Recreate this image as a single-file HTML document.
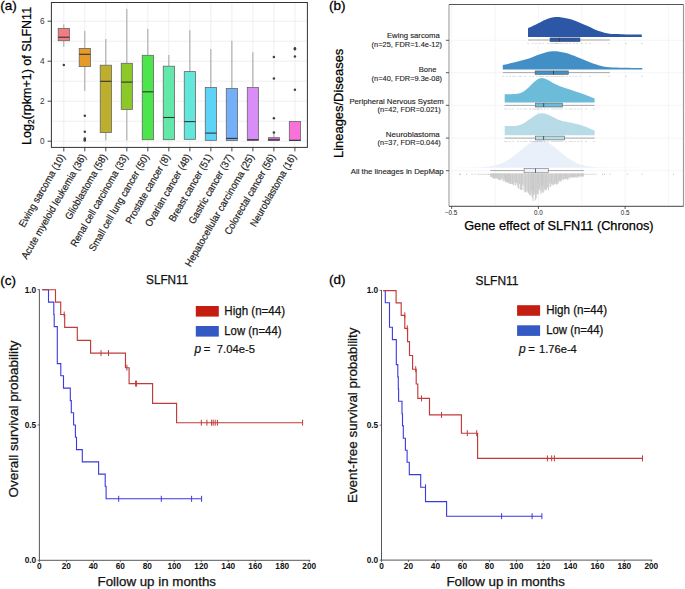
<!DOCTYPE html>
<html><head><meta charset="utf-8"><style>
html,body{margin:0;padding:0;background:#fff;}
body{width:685px;height:589px;overflow:hidden;}
svg{display:block;font-family:"Liberation Sans", sans-serif;}
</style></head><body>
<svg width="685" height="589" viewBox="0 0 685 589">
<rect width="685" height="589" fill="#fff"/>
<rect x="51.4" y="2.5" width="255.99999999999997" height="144.9" fill="#fff"/>
<line x1="51.4" x2="307.4" y1="141.20" y2="141.20" stroke="#EBEBEB" stroke-width="0.8"/>
<line x1="51.4" x2="307.4" y1="121.20" y2="121.20" stroke="#EBEBEB" stroke-width="0.8"/>
<line x1="51.4" x2="307.4" y1="101.20" y2="101.20" stroke="#EBEBEB" stroke-width="0.8"/>
<line x1="51.4" x2="307.4" y1="81.20" y2="81.20" stroke="#EBEBEB" stroke-width="0.8"/>
<line x1="51.4" x2="307.4" y1="61.20" y2="61.20" stroke="#EBEBEB" stroke-width="0.8"/>
<line x1="51.4" x2="307.4" y1="41.20" y2="41.20" stroke="#EBEBEB" stroke-width="0.8"/>
<line x1="51.4" x2="307.4" y1="21.20" y2="21.20" stroke="#EBEBEB" stroke-width="0.8"/>
<line x1="63.80" x2="63.80" y1="2.5" y2="147.4" stroke="#EBEBEB" stroke-width="0.8"/>
<line x1="84.81" x2="84.81" y1="2.5" y2="147.4" stroke="#EBEBEB" stroke-width="0.8"/>
<line x1="105.82" x2="105.82" y1="2.5" y2="147.4" stroke="#EBEBEB" stroke-width="0.8"/>
<line x1="126.83" x2="126.83" y1="2.5" y2="147.4" stroke="#EBEBEB" stroke-width="0.8"/>
<line x1="147.84" x2="147.84" y1="2.5" y2="147.4" stroke="#EBEBEB" stroke-width="0.8"/>
<line x1="168.85" x2="168.85" y1="2.5" y2="147.4" stroke="#EBEBEB" stroke-width="0.8"/>
<line x1="189.86" x2="189.86" y1="2.5" y2="147.4" stroke="#EBEBEB" stroke-width="0.8"/>
<line x1="210.87" x2="210.87" y1="2.5" y2="147.4" stroke="#EBEBEB" stroke-width="0.8"/>
<line x1="231.88" x2="231.88" y1="2.5" y2="147.4" stroke="#EBEBEB" stroke-width="0.8"/>
<line x1="252.89" x2="252.89" y1="2.5" y2="147.4" stroke="#EBEBEB" stroke-width="0.8"/>
<line x1="273.90" x2="273.90" y1="2.5" y2="147.4" stroke="#EBEBEB" stroke-width="0.8"/>
<line x1="294.91" x2="294.91" y1="2.5" y2="147.4" stroke="#EBEBEB" stroke-width="0.8"/>
<line x1="63.80" x2="63.80" y1="24.3" y2="28.4" stroke="#A3A3A3" stroke-width="1"/>
<line x1="63.80" x2="63.80" y1="40.7" y2="46.8" stroke="#A3A3A3" stroke-width="1"/>
<rect x="58.20" y="28.4" width="11.2" height="12.30" fill="#F47B80" stroke="#666" stroke-width="0.8"/>
<line x1="58.20" x2="69.40" y1="37.2" y2="37.2" stroke="#333" stroke-width="1.1"/>
<circle cx="63.80" cy="65.1" r="1.25" fill="#404040"/>
<line x1="84.81" x2="84.81" y1="30.9" y2="48.4" stroke="#A3A3A3" stroke-width="1"/>
<line x1="84.81" x2="84.81" y1="66.6" y2="90.9" stroke="#A3A3A3" stroke-width="1"/>
<rect x="79.21" y="48.4" width="11.2" height="18.20" fill="#E69A28" stroke="#666" stroke-width="0.8"/>
<line x1="79.21" x2="90.41" y1="54.3" y2="54.3" stroke="#333" stroke-width="1.1"/>
<circle cx="84.81" cy="115.8" r="1.25" fill="#404040"/>
<circle cx="84.81" cy="131.8" r="1.25" fill="#404040"/>
<circle cx="84.81" cy="138.4" r="1.25" fill="#404040"/>
<circle cx="84.81" cy="139.8" r="1.25" fill="#404040"/>
<circle cx="84.81" cy="140.6" r="1.25" fill="#404040"/>
<line x1="105.82" x2="105.82" y1="39.0" y2="65.2" stroke="#A3A3A3" stroke-width="1"/>
<line x1="105.82" x2="105.82" y1="132.5" y2="140.3" stroke="#A3A3A3" stroke-width="1"/>
<rect x="100.22" y="65.2" width="11.2" height="67.30" fill="#BDAF2C" stroke="#666" stroke-width="0.8"/>
<line x1="100.22" x2="111.42" y1="81.3" y2="81.3" stroke="#333" stroke-width="1.1"/>
<line x1="126.83" x2="126.83" y1="8.9" y2="63.3" stroke="#A3A3A3" stroke-width="1"/>
<line x1="126.83" x2="126.83" y1="109.4" y2="140.3" stroke="#A3A3A3" stroke-width="1"/>
<rect x="121.23" y="63.3" width="11.2" height="46.10" fill="#8CC828" stroke="#666" stroke-width="0.8"/>
<line x1="121.23" x2="132.43" y1="82.1" y2="82.1" stroke="#333" stroke-width="1.1"/>
<line x1="147.84" x2="147.84" y1="28.9" y2="55.3" stroke="#A3A3A3" stroke-width="1"/>
<rect x="142.24" y="55.3" width="11.2" height="84.40" fill="#4CE64C" stroke="#666" stroke-width="0.8"/>
<line x1="142.24" x2="153.44" y1="91.8" y2="91.8" stroke="#333" stroke-width="1.1"/>
<line x1="168.85" x2="168.85" y1="55.0" y2="66.2" stroke="#A3A3A3" stroke-width="1"/>
<rect x="163.25" y="66.2" width="11.2" height="73.50" fill="#62E9AA" stroke="#666" stroke-width="0.8"/>
<line x1="163.25" x2="174.45" y1="117.5" y2="117.5" stroke="#333" stroke-width="1.1"/>
<line x1="189.86" x2="189.86" y1="30.1" y2="71.6" stroke="#A3A3A3" stroke-width="1"/>
<rect x="184.26" y="71.6" width="11.2" height="67.70" fill="#64E7DB" stroke="#666" stroke-width="0.8"/>
<line x1="184.26" x2="195.46" y1="121.6" y2="121.6" stroke="#333" stroke-width="1.1"/>
<line x1="210.87" x2="210.87" y1="49.0" y2="87.5" stroke="#A3A3A3" stroke-width="1"/>
<rect x="205.27" y="87.5" width="11.2" height="52.80" fill="#5DD3F7" stroke="#666" stroke-width="0.8"/>
<line x1="205.27" x2="216.47" y1="133.1" y2="133.1" stroke="#333" stroke-width="1.1"/>
<line x1="231.88" x2="231.88" y1="40.8" y2="88.5" stroke="#A3A3A3" stroke-width="1"/>
<rect x="226.28" y="88.5" width="11.2" height="52.00" fill="#74B0FA" stroke="#666" stroke-width="0.8"/>
<line x1="226.28" x2="237.48" y1="138.4" y2="138.4" stroke="#333" stroke-width="1.1"/>
<line x1="252.89" x2="252.89" y1="52.3" y2="87.5" stroke="#A3A3A3" stroke-width="1"/>
<rect x="247.29" y="87.5" width="11.2" height="53.00" fill="#D98DF9" stroke="#666" stroke-width="0.8"/>
<line x1="247.29" x2="258.49" y1="139.7" y2="139.7" stroke="#333" stroke-width="1.1"/>
<line x1="273.90" x2="273.90" y1="132.0" y2="137.7" stroke="#A3A3A3" stroke-width="1"/>
<rect x="268.30" y="137.7" width="11.2" height="2.90" fill="#E062E6" stroke="#666" stroke-width="0.8"/>
<line x1="268.30" x2="279.50" y1="139.8" y2="139.8" stroke="#333" stroke-width="1.1"/>
<circle cx="273.90" cy="57.1" r="1.25" fill="#404040"/>
<circle cx="273.90" cy="78.6" r="1.25" fill="#404040"/>
<circle cx="273.90" cy="118.2" r="1.25" fill="#404040"/>
<circle cx="273.90" cy="132.4" r="1.25" fill="#404040"/>
<line x1="294.91" x2="294.91" y1="121.4" y2="121.4" stroke="#A3A3A3" stroke-width="1"/>
<rect x="289.31" y="121.4" width="11.2" height="19.20" fill="#F872DA" stroke="#666" stroke-width="0.8"/>
<line x1="289.31" x2="300.51" y1="140.3" y2="140.3" stroke="#333" stroke-width="1.1"/>
<circle cx="294.91" cy="48.3" r="1.25" fill="#404040"/>
<circle cx="294.91" cy="49.3" r="1.25" fill="#404040"/>
<circle cx="294.91" cy="56.5" r="1.25" fill="#404040"/>
<circle cx="294.91" cy="89.8" r="1.25" fill="#404040"/>
<rect x="51.4" y="2.5" width="255.99999999999997" height="144.9" fill="none" stroke="#333" stroke-width="1"/>
<line x1="47.6" x2="51.4" y1="141.20" y2="141.20" stroke="#333" stroke-width="0.9"/>
<text x="44.50" y="144.15" font-size="8.2" fill="#333" text-anchor="end">0</text>
<line x1="47.6" x2="51.4" y1="101.20" y2="101.20" stroke="#333" stroke-width="0.9"/>
<text x="44.50" y="104.15" font-size="8.2" fill="#333" text-anchor="end">2</text>
<line x1="47.6" x2="51.4" y1="61.20" y2="61.20" stroke="#333" stroke-width="0.9"/>
<text x="44.50" y="64.15" font-size="8.2" fill="#333" text-anchor="end">4</text>
<line x1="47.6" x2="51.4" y1="21.20" y2="21.20" stroke="#333" stroke-width="0.9"/>
<text x="44.50" y="24.15" font-size="8.2" fill="#333" text-anchor="end">6</text>
<line x1="63.80" x2="63.80" y1="147.4" y2="151.4" stroke="#333" stroke-width="0.9"/>
<text transform="translate(59.30 153.1) rotate(-60)" x="0" y="0" font-size="10.1" fill="#1a1a1a" stroke="#1a1a1a" stroke-width="0.18" text-anchor="end" dy="0.69em" textLength="82.32" lengthAdjust="spacingAndGlyphs">Ewing sarcoma (10)</text>
<line x1="84.81" x2="84.81" y1="147.4" y2="151.4" stroke="#333" stroke-width="0.9"/>
<text transform="translate(80.31 153.1) rotate(-60)" x="0" y="0" font-size="10.1" fill="#1a1a1a" stroke="#1a1a1a" stroke-width="0.18" text-anchor="end" dy="0.69em" textLength="119.23" lengthAdjust="spacingAndGlyphs">Acute myeloid leukemia (36)</text>
<line x1="105.82" x2="105.82" y1="147.4" y2="151.4" stroke="#333" stroke-width="0.9"/>
<text transform="translate(101.32 153.1) rotate(-60)" x="0" y="0" font-size="10.1" fill="#1a1a1a" stroke="#1a1a1a" stroke-width="0.18" text-anchor="end" dy="0.69em" textLength="73.82" lengthAdjust="spacingAndGlyphs">Glioblastoma (58)</text>
<line x1="126.83" x2="126.83" y1="147.4" y2="151.4" stroke="#333" stroke-width="0.9"/>
<text transform="translate(122.33 153.1) rotate(-60)" x="0" y="0" font-size="10.1" fill="#1a1a1a" stroke="#1a1a1a" stroke-width="0.18" text-anchor="end" dy="0.69em" textLength="104.97" lengthAdjust="spacingAndGlyphs">Renal cell carcinoma (33)</text>
<line x1="147.84" x2="147.84" y1="147.4" y2="151.4" stroke="#333" stroke-width="0.9"/>
<text transform="translate(143.34 153.1) rotate(-60)" x="0" y="0" font-size="10.1" fill="#1a1a1a" stroke="#1a1a1a" stroke-width="0.18" text-anchor="end" dy="0.69em" textLength="110.21" lengthAdjust="spacingAndGlyphs">Small cell lung cancer (50)</text>
<line x1="168.85" x2="168.85" y1="147.4" y2="151.4" stroke="#333" stroke-width="0.9"/>
<text transform="translate(164.35 153.1) rotate(-60)" x="0" y="0" font-size="10.1" fill="#1a1a1a" stroke="#1a1a1a" stroke-width="0.18" text-anchor="end" dy="0.69em" textLength="78.72" lengthAdjust="spacingAndGlyphs">Prostate cancer (8)</text>
<line x1="189.86" x2="189.86" y1="147.4" y2="151.4" stroke="#333" stroke-width="0.9"/>
<text transform="translate(185.36 153.1) rotate(-60)" x="0" y="0" font-size="10.1" fill="#1a1a1a" stroke="#1a1a1a" stroke-width="0.18" text-anchor="end" dy="0.69em" textLength="81.81" lengthAdjust="spacingAndGlyphs">Ovarian cancer (48)</text>
<line x1="210.87" x2="210.87" y1="147.4" y2="151.4" stroke="#333" stroke-width="0.9"/>
<text transform="translate(206.37 153.1) rotate(-60)" x="0" y="0" font-size="10.1" fill="#1a1a1a" stroke="#1a1a1a" stroke-width="0.18" text-anchor="end" dy="0.69em" textLength="76.15" lengthAdjust="spacingAndGlyphs">Breast cancer (51)</text>
<line x1="231.88" x2="231.88" y1="147.4" y2="151.4" stroke="#333" stroke-width="0.9"/>
<text transform="translate(227.38 153.1) rotate(-60)" x="0" y="0" font-size="10.1" fill="#1a1a1a" stroke="#1a1a1a" stroke-width="0.18" text-anchor="end" dy="0.69em" textLength="78.72" lengthAdjust="spacingAndGlyphs">Gastric cancer (37)</text>
<line x1="252.89" x2="252.89" y1="147.4" y2="151.4" stroke="#333" stroke-width="0.9"/>
<text transform="translate(248.39 153.1) rotate(-60)" x="0" y="0" font-size="10.1" fill="#1a1a1a" stroke="#1a1a1a" stroke-width="0.18" text-anchor="end" dy="0.69em" textLength="127.97" lengthAdjust="spacingAndGlyphs">Hepatocellular carcinoma (25)</text>
<line x1="273.90" x2="273.90" y1="147.4" y2="151.4" stroke="#333" stroke-width="0.9"/>
<text transform="translate(269.40 153.1) rotate(-60)" x="0" y="0" font-size="10.1" fill="#1a1a1a" stroke="#1a1a1a" stroke-width="0.18" text-anchor="end" dy="0.69em" textLength="91.07" lengthAdjust="spacingAndGlyphs">Colorectal cancer (56)</text>
<line x1="294.91" x2="294.91" y1="147.4" y2="151.4" stroke="#333" stroke-width="0.9"/>
<text transform="translate(290.41 153.1) rotate(-60)" x="0" y="0" font-size="10.1" fill="#1a1a1a" stroke="#1a1a1a" stroke-width="0.18" text-anchor="end" dy="0.69em" textLength="81.82" lengthAdjust="spacingAndGlyphs">Neuroblastoma (16)</text>
<text transform="translate(31.2 144.9) rotate(-90)" font-size="13.6" fill="#000" stroke="#000" stroke-width="0.25" textLength="138.0" lengthAdjust="spacingAndGlyphs">Log<tspan font-size="9" dy="3">2</tspan><tspan dy="-3">(rpkm+1) of SLFN11</tspan></text>
<text x="0.30" y="10.30" font-size="13.5" fill="#000" stroke="#000" stroke-width="0.3">(a)</text>
<rect x="449.0" y="4.5" width="234.50" height="201.80" fill="#fff"/>
<line x1="451.70" x2="451.70" y1="4.5" y2="206.3" stroke="#F0F0F0" stroke-width="0.7"/>
<line x1="495.05" x2="495.05" y1="4.5" y2="206.3" stroke="#F0F0F0" stroke-width="0.7"/>
<line x1="538.40" x2="538.40" y1="4.5" y2="206.3" stroke="#F0F0F0" stroke-width="0.7"/>
<line x1="581.75" x2="581.75" y1="4.5" y2="206.3" stroke="#F0F0F0" stroke-width="0.7"/>
<line x1="625.10" x2="625.10" y1="4.5" y2="206.3" stroke="#F0F0F0" stroke-width="0.7"/>
<line x1="668.45" x2="668.45" y1="4.5" y2="206.3" stroke="#F0F0F0" stroke-width="0.7"/>
<line x1="449.0" x2="683.5" y1="40.3" y2="40.3" stroke="#F0F0F0" stroke-width="0.7"/>
<line x1="449.0" x2="683.5" y1="72.7" y2="72.7" stroke="#F0F0F0" stroke-width="0.7"/>
<line x1="449.0" x2="683.5" y1="105.3" y2="105.3" stroke="#F0F0F0" stroke-width="0.7"/>
<line x1="449.0" x2="683.5" y1="138.1" y2="138.1" stroke="#F0F0F0" stroke-width="0.7"/>
<line x1="449.0" x2="683.5" y1="170.7" y2="170.7" stroke="#F0F0F0" stroke-width="0.7"/>
<path d="M528.00,36.90 L528.00,28.20 C529.33,27.58 533.00,25.95 536.00,24.50 C539.00,23.05 542.67,20.75 546.00,19.50 C549.33,18.25 552.67,17.20 556.00,17.00 C559.33,16.80 562.50,17.57 566.00,18.30 C569.50,19.03 573.50,20.15 577.00,21.40 C580.50,22.65 583.83,24.38 587.00,25.80 C590.17,27.22 592.67,28.67 596.00,29.90 C599.33,31.13 603.67,32.50 607.00,33.20 C610.33,33.90 612.83,33.90 616.00,34.10 C619.17,34.30 621.70,34.32 626.00,34.40 C630.30,34.48 639.17,34.57 641.80,34.60 L641.80,36.90 Z" fill="#2C57A6"/>
<path d="M502.80,69.50 L502.80,64.90 C504.83,64.47 510.80,63.32 515.00,62.30 C519.20,61.28 523.83,60.15 528.00,58.80 C532.17,57.45 535.90,55.45 540.00,54.20 C544.10,52.95 548.43,51.53 552.60,51.30 C556.77,51.07 560.93,51.85 565.00,52.80 C569.07,53.75 573.17,55.57 577.00,57.00 C580.83,58.43 584.50,60.07 588.00,61.40 C591.50,62.73 594.83,64.05 598.00,65.00 C601.17,65.95 603.33,66.63 607.00,67.10 C610.67,67.57 614.12,67.65 620.00,67.80 C625.88,67.95 638.58,67.97 642.30,68.00 L642.30,69.50 Z" fill="#428FC6"/>
<path d="M504.70,102.60 L504.70,94.20 C505.92,94.20 509.62,94.30 512.00,94.20 C514.38,94.10 516.83,94.20 519.00,93.60 C521.17,93.00 523.00,92.03 525.00,90.60 C527.00,89.17 529.17,86.70 531.00,85.00 C532.83,83.30 534.25,81.57 536.00,80.40 C537.75,79.23 539.67,78.13 541.50,78.00 C543.33,77.87 545.08,78.77 547.00,79.60 C548.92,80.43 550.83,81.90 553.00,83.00 C555.17,84.10 557.33,85.15 560.00,86.20 C562.67,87.25 565.87,88.23 569.00,89.30 C572.13,90.37 575.80,91.55 578.80,92.60 C581.80,93.65 584.37,94.60 587.00,95.60 C589.63,96.60 593.33,98.10 594.60,98.60 L594.60,102.60 Z" fill="#6CBBD9"/>
<path d="M504.70,135.30 L504.70,126.00 C505.92,126.00 509.78,126.10 512.00,126.00 C514.22,125.90 515.83,126.00 518.00,125.40 C520.17,124.80 522.83,123.58 525.00,122.40 C527.17,121.22 529.17,119.53 531.00,118.30 C532.83,117.07 534.25,115.83 536.00,115.00 C537.75,114.17 539.67,113.43 541.50,113.30 C543.33,113.17 545.08,113.58 547.00,114.20 C548.92,114.82 550.83,116.00 553.00,117.00 C555.17,118.00 557.17,119.27 560.00,120.20 C562.83,121.13 566.87,121.88 570.00,122.60 C573.13,123.32 575.97,123.72 578.80,124.50 C581.63,125.28 584.37,126.25 587.00,127.30 C589.63,128.35 593.33,130.22 594.60,130.80 L594.60,135.30 Z" fill="#B8DCE7"/>
<path d="M459,167.7 L459.00,167.56 L460.96,167.55 L462.92,167.54 L464.88,167.53 L466.84,167.51 L468.80,167.49 L470.76,167.46 L472.72,167.43 L474.68,167.39 L476.64,167.34 L478.60,167.27 L480.56,167.18 L482.52,167.07 L484.48,166.94 L486.44,166.76 L488.40,166.54 L490.36,166.27 L492.32,165.94 L494.28,165.54 L496.24,165.06 L498.20,164.49 L500.16,163.81 L502.12,163.03 L504.08,162.14 L506.04,161.12 L508.00,159.98 L509.96,158.73 L511.92,157.36 L513.88,155.90 L515.84,154.35 L517.80,152.73 L519.76,151.09 L521.72,149.43 L523.68,147.80 L525.64,146.24 L527.60,144.78 L529.56,143.45 L531.52,142.29 L533.48,141.34 L535.44,140.61 L537.40,140.13 L539.36,139.91 L541.32,140.08 L543.28,140.53 L545.24,141.22 L547.20,142.14 L549.16,143.27 L551.12,144.58 L553.08,146.02 L555.04,147.58 L557.00,149.20 L558.96,150.85 L560.92,152.50 L562.88,154.12 L564.84,155.68 L566.80,157.16 L568.76,158.54 L570.72,159.81 L572.68,160.97 L574.64,162.00 L576.60,162.91 L578.56,163.71 L580.52,164.40 L582.48,164.98 L584.44,165.48 L586.40,165.89 L588.36,166.23 L590.32,166.51 L592.28,166.73 L594.24,166.91 L596.20,167.06 L598.16,167.17 L600.12,167.26 L602.08,167.33 L604.04,167.38 L606.00,167.43 L607.96,167.46 L609.92,167.49 L611.88,167.51 L613.84,167.53 L615.80,167.54 L617.76,167.55 L619.72,167.56 L621.68,167.57 L623.64,167.58 L625.60,167.59 L627.56,167.59 L629.52,167.60 L631.48,167.61 L633.44,167.61 L635.40,167.62 L637.36,167.62 L639.32,167.62 L641.28,167.63 L643.24,167.63 L645.20,167.64 L647.16,167.64 L649.12,167.64 L651.08,167.65 L653.04,167.65 L655.00,167.65 L655,167.7 Z" fill="#EAF0FA"/>
<line x1="528" x2="609.8" y1="40.0" y2="40.0" stroke="#A8A8A8" stroke-width="1"/>
<rect x="550.0" y="37.9" width="30.00" height="3.80" fill="#2C57A6" stroke="#555" stroke-width="0.55"/>
<line x1="559.3" x2="559.3" y1="37.9" y2="41.7" stroke="#333" stroke-width="0.8"/>
<line x1="502.8" x2="609.8" y1="72.6" y2="72.6" stroke="#A8A8A8" stroke-width="1"/>
<rect x="535.1" y="70.9" width="33.20" height="3.50" fill="#428FC6" stroke="#555" stroke-width="0.55"/>
<line x1="553.5" x2="553.5" y1="70.9" y2="74.4" stroke="#333" stroke-width="0.8"/>
<line x1="504.7" x2="594.6" y1="105.4" y2="105.4" stroke="#A8A8A8" stroke-width="1"/>
<rect x="535.5" y="103.1" width="26.90" height="3.90" fill="#6CBBD9" stroke="#555" stroke-width="0.55"/>
<line x1="543.7" x2="543.7" y1="103.1" y2="107.0" stroke="#333" stroke-width="0.8"/>
<line x1="504.7" x2="594.6" y1="138.1" y2="138.1" stroke="#A8A8A8" stroke-width="1"/>
<rect x="535.5" y="136.1" width="29.20" height="3.80" fill="#B8DCE7" stroke="#555" stroke-width="0.55"/>
<line x1="543.6" x2="543.6" y1="136.1" y2="139.9" stroke="#333" stroke-width="0.8"/>
<line x1="490.3" x2="583.9" y1="170.6" y2="170.6" stroke="#A8A8A8" stroke-width="1"/>
<rect x="524.1" y="168.6" width="24.1" height="4.2" fill="#EEF2FA" stroke="#666" stroke-width="0.55"/>
<line x1="535.5" x2="535.5" y1="168.6" y2="172.8" stroke="#444" stroke-width="0.8"/>
<rect x="527.60" y="42.90" width="0.8" height="0.8" fill="#999"/>
<rect x="532.60" y="42.90" width="0.8" height="0.8" fill="#999"/>
<rect x="535.60" y="42.90" width="0.8" height="0.8" fill="#999"/>
<rect x="539.60" y="42.90" width="0.8" height="0.8" fill="#999"/>
<rect x="542.60" y="42.90" width="0.8" height="0.8" fill="#999"/>
<rect x="547.60" y="42.90" width="0.8" height="0.8" fill="#999"/>
<rect x="550.60" y="42.90" width="0.8" height="0.8" fill="#999"/>
<rect x="552.60" y="42.90" width="0.8" height="0.8" fill="#999"/>
<rect x="554.60" y="42.90" width="0.8" height="0.8" fill="#999"/>
<rect x="555.60" y="42.90" width="0.8" height="0.8" fill="#999"/>
<rect x="556.60" y="42.90" width="0.8" height="0.8" fill="#999"/>
<rect x="557.60" y="42.90" width="0.8" height="0.8" fill="#999"/>
<rect x="559.60" y="42.90" width="0.8" height="0.8" fill="#999"/>
<rect x="561.60" y="42.90" width="0.8" height="0.8" fill="#999"/>
<rect x="564.60" y="42.90" width="0.8" height="0.8" fill="#999"/>
<rect x="566.60" y="42.90" width="0.8" height="0.8" fill="#999"/>
<rect x="569.60" y="42.90" width="0.8" height="0.8" fill="#999"/>
<rect x="573.60" y="42.90" width="0.8" height="0.8" fill="#999"/>
<rect x="576.60" y="42.90" width="0.8" height="0.8" fill="#999"/>
<rect x="581.60" y="42.90" width="0.8" height="0.8" fill="#999"/>
<rect x="585.60" y="42.90" width="0.8" height="0.8" fill="#999"/>
<rect x="589.60" y="42.90" width="0.8" height="0.8" fill="#999"/>
<rect x="608.60" y="42.90" width="0.8" height="0.8" fill="#999"/>
<rect x="625.60" y="42.90" width="0.8" height="0.8" fill="#999"/>
<rect x="641.60" y="42.90" width="0.8" height="0.8" fill="#999"/>
<rect x="502.60" y="75.90" width="0.8" height="0.8" fill="#999"/>
<rect x="506.60" y="75.90" width="0.8" height="0.8" fill="#999"/>
<rect x="509.60" y="75.90" width="0.8" height="0.8" fill="#999"/>
<rect x="512.60" y="75.90" width="0.8" height="0.8" fill="#999"/>
<rect x="514.60" y="75.90" width="0.8" height="0.8" fill="#999"/>
<rect x="518.60" y="75.90" width="0.8" height="0.8" fill="#999"/>
<rect x="520.60" y="75.90" width="0.8" height="0.8" fill="#999"/>
<rect x="524.60" y="75.90" width="0.8" height="0.8" fill="#999"/>
<rect x="529.60" y="75.90" width="0.8" height="0.8" fill="#999"/>
<rect x="532.60" y="75.90" width="0.8" height="0.8" fill="#999"/>
<rect x="536.60" y="75.90" width="0.8" height="0.8" fill="#999"/>
<rect x="539.60" y="75.90" width="0.8" height="0.8" fill="#999"/>
<rect x="540.60" y="75.90" width="0.8" height="0.8" fill="#999"/>
<rect x="542.60" y="75.90" width="0.8" height="0.8" fill="#999"/>
<rect x="545.60" y="75.90" width="0.8" height="0.8" fill="#999"/>
<rect x="547.60" y="75.90" width="0.8" height="0.8" fill="#999"/>
<rect x="549.60" y="75.90" width="0.8" height="0.8" fill="#999"/>
<rect x="551.60" y="75.90" width="0.8" height="0.8" fill="#999"/>
<rect x="553.60" y="75.90" width="0.8" height="0.8" fill="#999"/>
<rect x="555.60" y="75.90" width="0.8" height="0.8" fill="#999"/>
<rect x="557.60" y="75.90" width="0.8" height="0.8" fill="#999"/>
<rect x="559.60" y="75.90" width="0.8" height="0.8" fill="#999"/>
<rect x="561.60" y="75.90" width="0.8" height="0.8" fill="#999"/>
<rect x="563.60" y="75.90" width="0.8" height="0.8" fill="#999"/>
<rect x="566.60" y="75.90" width="0.8" height="0.8" fill="#999"/>
<rect x="569.60" y="75.90" width="0.8" height="0.8" fill="#999"/>
<rect x="572.60" y="75.90" width="0.8" height="0.8" fill="#999"/>
<rect x="575.60" y="75.90" width="0.8" height="0.8" fill="#999"/>
<rect x="579.60" y="75.90" width="0.8" height="0.8" fill="#999"/>
<rect x="589.60" y="75.90" width="0.8" height="0.8" fill="#999"/>
<rect x="608.60" y="75.90" width="0.8" height="0.8" fill="#999"/>
<rect x="625.60" y="75.90" width="0.8" height="0.8" fill="#999"/>
<rect x="641.60" y="75.90" width="0.8" height="0.8" fill="#999"/>
<rect x="504.60" y="108.60" width="0.8" height="0.8" fill="#999"/>
<rect x="506.60" y="108.60" width="0.8" height="0.8" fill="#999"/>
<rect x="509.60" y="108.60" width="0.8" height="0.8" fill="#999"/>
<rect x="512.60" y="108.60" width="0.8" height="0.8" fill="#999"/>
<rect x="517.60" y="108.60" width="0.8" height="0.8" fill="#999"/>
<rect x="520.60" y="108.60" width="0.8" height="0.8" fill="#999"/>
<rect x="523.60" y="108.60" width="0.8" height="0.8" fill="#999"/>
<rect x="525.60" y="108.60" width="0.8" height="0.8" fill="#999"/>
<rect x="529.60" y="108.60" width="0.8" height="0.8" fill="#999"/>
<rect x="531.60" y="108.60" width="0.8" height="0.8" fill="#999"/>
<rect x="533.60" y="108.60" width="0.8" height="0.8" fill="#999"/>
<rect x="534.60" y="108.60" width="0.8" height="0.8" fill="#999"/>
<rect x="536.60" y="108.60" width="0.8" height="0.8" fill="#999"/>
<rect x="537.60" y="108.60" width="0.8" height="0.8" fill="#999"/>
<rect x="539.60" y="108.60" width="0.8" height="0.8" fill="#999"/>
<rect x="541.60" y="108.60" width="0.8" height="0.8" fill="#999"/>
<rect x="544.60" y="108.60" width="0.8" height="0.8" fill="#999"/>
<rect x="547.60" y="108.60" width="0.8" height="0.8" fill="#999"/>
<rect x="551.60" y="108.60" width="0.8" height="0.8" fill="#999"/>
<rect x="553.60" y="108.60" width="0.8" height="0.8" fill="#999"/>
<rect x="555.60" y="108.60" width="0.8" height="0.8" fill="#999"/>
<rect x="557.60" y="108.60" width="0.8" height="0.8" fill="#999"/>
<rect x="559.60" y="108.60" width="0.8" height="0.8" fill="#999"/>
<rect x="561.60" y="108.60" width="0.8" height="0.8" fill="#999"/>
<rect x="565.60" y="108.60" width="0.8" height="0.8" fill="#999"/>
<rect x="569.60" y="108.60" width="0.8" height="0.8" fill="#999"/>
<rect x="571.60" y="108.60" width="0.8" height="0.8" fill="#999"/>
<rect x="574.60" y="108.60" width="0.8" height="0.8" fill="#999"/>
<rect x="577.60" y="108.60" width="0.8" height="0.8" fill="#999"/>
<rect x="580.60" y="108.60" width="0.8" height="0.8" fill="#999"/>
<rect x="585.60" y="108.60" width="0.8" height="0.8" fill="#999"/>
<rect x="593.60" y="108.60" width="0.8" height="0.8" fill="#999"/>
<rect x="504.60" y="141.00" width="0.8" height="0.8" fill="#999"/>
<rect x="506.60" y="141.00" width="0.8" height="0.8" fill="#999"/>
<rect x="509.60" y="141.00" width="0.8" height="0.8" fill="#999"/>
<rect x="512.60" y="141.00" width="0.8" height="0.8" fill="#999"/>
<rect x="517.60" y="141.00" width="0.8" height="0.8" fill="#999"/>
<rect x="520.60" y="141.00" width="0.8" height="0.8" fill="#999"/>
<rect x="523.60" y="141.00" width="0.8" height="0.8" fill="#999"/>
<rect x="525.60" y="141.00" width="0.8" height="0.8" fill="#999"/>
<rect x="529.60" y="141.00" width="0.8" height="0.8" fill="#999"/>
<rect x="531.60" y="141.00" width="0.8" height="0.8" fill="#999"/>
<rect x="533.60" y="141.00" width="0.8" height="0.8" fill="#999"/>
<rect x="534.60" y="141.00" width="0.8" height="0.8" fill="#999"/>
<rect x="536.60" y="141.00" width="0.8" height="0.8" fill="#999"/>
<rect x="537.60" y="141.00" width="0.8" height="0.8" fill="#999"/>
<rect x="539.60" y="141.00" width="0.8" height="0.8" fill="#999"/>
<rect x="541.60" y="141.00" width="0.8" height="0.8" fill="#999"/>
<rect x="544.60" y="141.00" width="0.8" height="0.8" fill="#999"/>
<rect x="547.60" y="141.00" width="0.8" height="0.8" fill="#999"/>
<rect x="551.60" y="141.00" width="0.8" height="0.8" fill="#999"/>
<rect x="553.60" y="141.00" width="0.8" height="0.8" fill="#999"/>
<rect x="555.60" y="141.00" width="0.8" height="0.8" fill="#999"/>
<rect x="557.60" y="141.00" width="0.8" height="0.8" fill="#999"/>
<rect x="559.60" y="141.00" width="0.8" height="0.8" fill="#999"/>
<rect x="561.60" y="141.00" width="0.8" height="0.8" fill="#999"/>
<rect x="565.60" y="141.00" width="0.8" height="0.8" fill="#999"/>
<rect x="569.60" y="141.00" width="0.8" height="0.8" fill="#999"/>
<rect x="571.60" y="141.00" width="0.8" height="0.8" fill="#999"/>
<rect x="574.60" y="141.00" width="0.8" height="0.8" fill="#999"/>
<rect x="577.60" y="141.00" width="0.8" height="0.8" fill="#999"/>
<rect x="580.60" y="141.00" width="0.8" height="0.8" fill="#999"/>
<rect x="585.60" y="141.00" width="0.8" height="0.8" fill="#999"/>
<rect x="593.60" y="141.00" width="0.8" height="0.8" fill="#999"/>
<rect x="459.30" y="173.80" width="0.8" height="0.8" fill="#999"/>
<rect x="460.10" y="173.80" width="0.8" height="0.8" fill="#999"/>
<rect x="466.10" y="173.80" width="0.8" height="0.8" fill="#999"/>
<rect x="471.60" y="173.80" width="0.8" height="0.8" fill="#999"/>
<rect x="474.60" y="173.80" width="0.8" height="0.8" fill="#999"/>
<rect x="477.60" y="173.80" width="0.8" height="0.8" fill="#999"/>
<rect x="479.60" y="173.80" width="0.8" height="0.8" fill="#999"/>
<rect x="481.60" y="173.80" width="0.8" height="0.8" fill="#999"/>
<rect x="483.60" y="173.80" width="0.8" height="0.8" fill="#999"/>
<rect x="485.60" y="173.80" width="0.8" height="0.8" fill="#999"/>
<rect x="487.60" y="173.80" width="0.8" height="0.8" fill="#999"/>
<rect x="488.60" y="173.80" width="0.8" height="0.8" fill="#999"/>
<rect x="490.60" y="173.80" width="0.8" height="0.8" fill="#999"/>
<rect x="492.60" y="173.80" width="0.8" height="0.8" fill="#999"/>
<rect x="494.60" y="173.80" width="0.8" height="0.8" fill="#999"/>
<rect x="496.60" y="173.80" width="0.8" height="0.8" fill="#999"/>
<rect x="498.60" y="173.80" width="0.8" height="0.8" fill="#999"/>
<rect x="500.60" y="173.80" width="0.8" height="0.8" fill="#999"/>
<rect x="502.60" y="173.80" width="0.8" height="0.8" fill="#999"/>
<rect x="583.60" y="173.80" width="0.8" height="0.8" fill="#999"/>
<rect x="585.60" y="173.80" width="0.8" height="0.8" fill="#999"/>
<rect x="587.60" y="173.80" width="0.8" height="0.8" fill="#999"/>
<rect x="589.60" y="173.80" width="0.8" height="0.8" fill="#999"/>
<rect x="591.60" y="173.80" width="0.8" height="0.8" fill="#999"/>
<rect x="593.60" y="173.80" width="0.8" height="0.8" fill="#999"/>
<rect x="595.60" y="173.80" width="0.8" height="0.8" fill="#999"/>
<rect x="602.00" y="173.80" width="0.8" height="0.8" fill="#999"/>
<rect x="604.10" y="173.80" width="0.8" height="0.8" fill="#999"/>
<rect x="609.80" y="173.80" width="0.8" height="0.8" fill="#999"/>
<rect x="626.90" y="173.80" width="0.8" height="0.8" fill="#999"/>
<rect x="641.80" y="173.80" width="0.8" height="0.8" fill="#999"/>
<rect x="673.10" y="173.80" width="0.8" height="0.8" fill="#999"/>
<line x1="490.50" x2="490.50" y1="173.4" y2="176.94" stroke="#C4C4C4" stroke-width="0.8"/>
<line x1="491.37" x2="491.37" y1="173.4" y2="177.10" stroke="#C4C4C4" stroke-width="0.8"/>
<line x1="492.08" x2="492.08" y1="173.4" y2="176.71" stroke="#C4C4C4" stroke-width="0.8"/>
<line x1="492.81" x2="492.81" y1="173.4" y2="178.32" stroke="#C4C4C4" stroke-width="0.8"/>
<line x1="493.30" x2="493.30" y1="173.4" y2="178.09" stroke="#C4C4C4" stroke-width="0.8"/>
<line x1="493.77" x2="493.77" y1="173.4" y2="178.52" stroke="#C4C4C4" stroke-width="0.8"/>
<line x1="494.52" x2="494.52" y1="173.4" y2="178.47" stroke="#C4C4C4" stroke-width="0.8"/>
<line x1="495.21" x2="495.21" y1="173.4" y2="178.81" stroke="#C4C4C4" stroke-width="0.8"/>
<line x1="495.67" x2="495.67" y1="173.4" y2="177.86" stroke="#C4C4C4" stroke-width="0.8"/>
<line x1="496.50" x2="496.50" y1="173.4" y2="178.14" stroke="#C4C4C4" stroke-width="0.8"/>
<line x1="497.17" x2="497.17" y1="173.4" y2="178.61" stroke="#C4C4C4" stroke-width="0.8"/>
<line x1="497.75" x2="497.75" y1="173.4" y2="179.52" stroke="#C4C4C4" stroke-width="0.8"/>
<line x1="498.58" x2="498.58" y1="173.4" y2="179.05" stroke="#C4C4C4" stroke-width="0.8"/>
<line x1="499.13" x2="499.13" y1="173.4" y2="180.33" stroke="#C4C4C4" stroke-width="0.8"/>
<line x1="499.76" x2="499.76" y1="173.4" y2="179.70" stroke="#C4C4C4" stroke-width="0.8"/>
<line x1="500.64" x2="500.64" y1="173.4" y2="180.22" stroke="#C4C4C4" stroke-width="0.8"/>
<line x1="501.50" x2="501.50" y1="173.4" y2="179.16" stroke="#C4C4C4" stroke-width="0.8"/>
<line x1="502.13" x2="502.13" y1="173.4" y2="178.20" stroke="#C4C4C4" stroke-width="0.8"/>
<line x1="502.93" x2="502.93" y1="173.4" y2="181.08" stroke="#C4C4C4" stroke-width="0.8"/>
<line x1="503.81" x2="503.81" y1="173.4" y2="181.27" stroke="#C4C4C4" stroke-width="0.8"/>
<line x1="504.31" x2="504.31" y1="173.4" y2="178.64" stroke="#C4C4C4" stroke-width="0.8"/>
<line x1="504.84" x2="504.84" y1="173.4" y2="180.34" stroke="#C4C4C4" stroke-width="0.8"/>
<line x1="505.37" x2="505.37" y1="173.4" y2="182.33" stroke="#C4C4C4" stroke-width="0.8"/>
<line x1="505.88" x2="505.88" y1="173.4" y2="180.21" stroke="#C4C4C4" stroke-width="0.8"/>
<line x1="506.45" x2="506.45" y1="173.4" y2="182.25" stroke="#C4C4C4" stroke-width="0.8"/>
<line x1="507.04" x2="507.04" y1="173.4" y2="182.18" stroke="#C4C4C4" stroke-width="0.8"/>
<line x1="507.66" x2="507.66" y1="173.4" y2="182.31" stroke="#C4C4C4" stroke-width="0.8"/>
<line x1="508.16" x2="508.16" y1="173.4" y2="183.00" stroke="#C4C4C4" stroke-width="0.8"/>
<line x1="508.72" x2="508.72" y1="173.4" y2="182.42" stroke="#C4C4C4" stroke-width="0.8"/>
<line x1="509.31" x2="509.31" y1="173.4" y2="183.91" stroke="#C4C4C4" stroke-width="0.8"/>
<line x1="509.87" x2="509.87" y1="173.4" y2="182.21" stroke="#C4C4C4" stroke-width="0.8"/>
<line x1="510.52" x2="510.52" y1="173.4" y2="183.91" stroke="#C4C4C4" stroke-width="0.8"/>
<line x1="511.23" x2="511.23" y1="173.4" y2="184.12" stroke="#C4C4C4" stroke-width="0.8"/>
<line x1="512.09" x2="512.09" y1="173.4" y2="184.04" stroke="#C4C4C4" stroke-width="0.8"/>
<line x1="512.62" x2="512.62" y1="173.4" y2="183.94" stroke="#C4C4C4" stroke-width="0.8"/>
<line x1="513.16" x2="513.16" y1="173.4" y2="185.15" stroke="#C4C4C4" stroke-width="0.8"/>
<line x1="513.88" x2="513.88" y1="173.4" y2="185.21" stroke="#C4C4C4" stroke-width="0.8"/>
<line x1="514.77" x2="514.77" y1="173.4" y2="182.53" stroke="#C4C4C4" stroke-width="0.8"/>
<line x1="515.33" x2="515.33" y1="173.4" y2="185.68" stroke="#C4C4C4" stroke-width="0.8"/>
<line x1="515.91" x2="515.91" y1="173.4" y2="182.67" stroke="#C4C4C4" stroke-width="0.8"/>
<line x1="516.40" x2="516.40" y1="173.4" y2="183.14" stroke="#C4C4C4" stroke-width="0.8"/>
<line x1="517.23" x2="517.23" y1="173.4" y2="185.60" stroke="#C4C4C4" stroke-width="0.8"/>
<line x1="518.09" x2="518.09" y1="173.4" y2="188.10" stroke="#C4C4C4" stroke-width="0.8"/>
<line x1="518.74" x2="518.74" y1="173.4" y2="188.75" stroke="#C4C4C4" stroke-width="0.8"/>
<line x1="519.45" x2="519.45" y1="173.4" y2="183.95" stroke="#C4C4C4" stroke-width="0.8"/>
<line x1="520.30" x2="520.30" y1="173.4" y2="189.62" stroke="#C4C4C4" stroke-width="0.8"/>
<line x1="521.06" x2="521.06" y1="173.4" y2="189.53" stroke="#C4C4C4" stroke-width="0.8"/>
<line x1="521.52" x2="521.52" y1="173.4" y2="190.04" stroke="#C4C4C4" stroke-width="0.8"/>
<line x1="522.40" x2="522.40" y1="173.4" y2="184.64" stroke="#C4C4C4" stroke-width="0.8"/>
<line x1="523.07" x2="523.07" y1="173.4" y2="189.94" stroke="#C4C4C4" stroke-width="0.8"/>
<line x1="523.97" x2="523.97" y1="173.4" y2="185.83" stroke="#C4C4C4" stroke-width="0.8"/>
<line x1="524.75" x2="524.75" y1="173.4" y2="192.47" stroke="#C4C4C4" stroke-width="0.8"/>
<line x1="525.52" x2="525.52" y1="173.4" y2="192.29" stroke="#C4C4C4" stroke-width="0.8"/>
<line x1="526.13" x2="526.13" y1="173.4" y2="191.93" stroke="#C4C4C4" stroke-width="0.8"/>
<line x1="526.97" x2="526.97" y1="173.4" y2="190.40" stroke="#C4C4C4" stroke-width="0.8"/>
<line x1="527.81" x2="527.81" y1="173.4" y2="192.37" stroke="#C4C4C4" stroke-width="0.8"/>
<line x1="528.43" x2="528.43" y1="173.4" y2="192.97" stroke="#C4C4C4" stroke-width="0.8"/>
<line x1="528.92" x2="528.92" y1="173.4" y2="193.90" stroke="#C4C4C4" stroke-width="0.8"/>
<line x1="529.76" x2="529.76" y1="173.4" y2="195.50" stroke="#C4C4C4" stroke-width="0.8"/>
<line x1="530.54" x2="530.54" y1="173.4" y2="194.84" stroke="#C4C4C4" stroke-width="0.8"/>
<line x1="531.37" x2="531.37" y1="173.4" y2="190.63" stroke="#C4C4C4" stroke-width="0.8"/>
<line x1="531.83" x2="531.83" y1="173.4" y2="196.29" stroke="#C4C4C4" stroke-width="0.8"/>
<line x1="532.39" x2="532.39" y1="173.4" y2="197.86" stroke="#C4C4C4" stroke-width="0.8"/>
<line x1="533.11" x2="533.11" y1="173.4" y2="201.05" stroke="#C4C4C4" stroke-width="0.8"/>
<line x1="533.57" x2="533.57" y1="173.4" y2="194.63" stroke="#C4C4C4" stroke-width="0.8"/>
<line x1="534.11" x2="534.11" y1="173.4" y2="192.73" stroke="#C4C4C4" stroke-width="0.8"/>
<line x1="534.86" x2="534.86" y1="173.4" y2="194.94" stroke="#C4C4C4" stroke-width="0.8"/>
<line x1="535.45" x2="535.45" y1="173.4" y2="200.43" stroke="#C4C4C4" stroke-width="0.8"/>
<line x1="536.27" x2="536.27" y1="173.4" y2="198.28" stroke="#C4C4C4" stroke-width="0.8"/>
<line x1="536.89" x2="536.89" y1="173.4" y2="194.46" stroke="#C4C4C4" stroke-width="0.8"/>
<line x1="537.40" x2="537.40" y1="173.4" y2="193.19" stroke="#C4C4C4" stroke-width="0.8"/>
<line x1="538.23" x2="538.23" y1="173.4" y2="194.42" stroke="#C4C4C4" stroke-width="0.8"/>
<line x1="538.81" x2="538.81" y1="173.4" y2="189.16" stroke="#C4C4C4" stroke-width="0.8"/>
<line x1="539.38" x2="539.38" y1="173.4" y2="189.15" stroke="#C4C4C4" stroke-width="0.8"/>
<line x1="540.11" x2="540.11" y1="173.4" y2="190.97" stroke="#C4C4C4" stroke-width="0.8"/>
<line x1="540.94" x2="540.94" y1="173.4" y2="194.24" stroke="#C4C4C4" stroke-width="0.8"/>
<line x1="541.42" x2="541.42" y1="173.4" y2="186.39" stroke="#C4C4C4" stroke-width="0.8"/>
<line x1="541.89" x2="541.89" y1="173.4" y2="191.31" stroke="#C4C4C4" stroke-width="0.8"/>
<line x1="542.48" x2="542.48" y1="173.4" y2="192.44" stroke="#C4C4C4" stroke-width="0.8"/>
<line x1="543.14" x2="543.14" y1="173.4" y2="185.41" stroke="#C4C4C4" stroke-width="0.8"/>
<line x1="543.69" x2="543.69" y1="173.4" y2="192.84" stroke="#C4C4C4" stroke-width="0.8"/>
<line x1="544.34" x2="544.34" y1="173.4" y2="188.95" stroke="#C4C4C4" stroke-width="0.8"/>
<line x1="545.16" x2="545.16" y1="173.4" y2="190.59" stroke="#C4C4C4" stroke-width="0.8"/>
<line x1="545.70" x2="545.70" y1="173.4" y2="189.64" stroke="#C4C4C4" stroke-width="0.8"/>
<line x1="546.36" x2="546.36" y1="173.4" y2="189.83" stroke="#C4C4C4" stroke-width="0.8"/>
<line x1="546.96" x2="546.96" y1="173.4" y2="187.69" stroke="#C4C4C4" stroke-width="0.8"/>
<line x1="547.69" x2="547.69" y1="173.4" y2="187.60" stroke="#C4C4C4" stroke-width="0.8"/>
<line x1="548.50" x2="548.50" y1="173.4" y2="189.87" stroke="#C4C4C4" stroke-width="0.8"/>
<line x1="549.27" x2="549.27" y1="173.4" y2="183.18" stroke="#C4C4C4" stroke-width="0.8"/>
<line x1="550.00" x2="550.00" y1="173.4" y2="187.07" stroke="#C4C4C4" stroke-width="0.8"/>
<line x1="550.71" x2="550.71" y1="173.4" y2="186.49" stroke="#C4C4C4" stroke-width="0.8"/>
<line x1="551.58" x2="551.58" y1="173.4" y2="183.92" stroke="#C4C4C4" stroke-width="0.8"/>
<line x1="552.13" x2="552.13" y1="173.4" y2="184.94" stroke="#C4C4C4" stroke-width="0.8"/>
<line x1="552.87" x2="552.87" y1="173.4" y2="184.55" stroke="#C4C4C4" stroke-width="0.8"/>
<line x1="553.72" x2="553.72" y1="173.4" y2="185.35" stroke="#C4C4C4" stroke-width="0.8"/>
<line x1="554.41" x2="554.41" y1="173.4" y2="184.15" stroke="#C4C4C4" stroke-width="0.8"/>
<line x1="555.27" x2="555.27" y1="173.4" y2="184.04" stroke="#C4C4C4" stroke-width="0.8"/>
<line x1="555.76" x2="555.76" y1="173.4" y2="182.08" stroke="#C4C4C4" stroke-width="0.8"/>
<line x1="556.55" x2="556.55" y1="173.4" y2="184.80" stroke="#C4C4C4" stroke-width="0.8"/>
<line x1="557.03" x2="557.03" y1="173.4" y2="183.83" stroke="#C4C4C4" stroke-width="0.8"/>
<line x1="557.84" x2="557.84" y1="173.4" y2="183.74" stroke="#C4C4C4" stroke-width="0.8"/>
<line x1="558.61" x2="558.61" y1="173.4" y2="182.54" stroke="#C4C4C4" stroke-width="0.8"/>
<line x1="559.49" x2="559.49" y1="173.4" y2="180.96" stroke="#C4C4C4" stroke-width="0.8"/>
<line x1="559.98" x2="559.98" y1="173.4" y2="179.86" stroke="#C4C4C4" stroke-width="0.8"/>
<line x1="560.56" x2="560.56" y1="173.4" y2="181.42" stroke="#C4C4C4" stroke-width="0.8"/>
<line x1="561.24" x2="561.24" y1="173.4" y2="181.56" stroke="#C4C4C4" stroke-width="0.8"/>
<line x1="561.83" x2="561.83" y1="173.4" y2="179.87" stroke="#C4C4C4" stroke-width="0.8"/>
<line x1="562.69" x2="562.69" y1="173.4" y2="179.10" stroke="#C4C4C4" stroke-width="0.8"/>
<line x1="563.58" x2="563.58" y1="173.4" y2="179.83" stroke="#C4C4C4" stroke-width="0.8"/>
<line x1="564.12" x2="564.12" y1="173.4" y2="179.71" stroke="#C4C4C4" stroke-width="0.8"/>
<line x1="564.84" x2="564.84" y1="173.4" y2="178.08" stroke="#C4C4C4" stroke-width="0.8"/>
<line x1="565.52" x2="565.52" y1="173.4" y2="178.97" stroke="#C4C4C4" stroke-width="0.8"/>
<line x1="566.22" x2="566.22" y1="173.4" y2="179.04" stroke="#C4C4C4" stroke-width="0.8"/>
<line x1="566.70" x2="566.70" y1="173.4" y2="179.05" stroke="#C4C4C4" stroke-width="0.8"/>
<line x1="567.58" x2="567.58" y1="173.4" y2="179.80" stroke="#C4C4C4" stroke-width="0.8"/>
<line x1="568.25" x2="568.25" y1="173.4" y2="177.68" stroke="#C4C4C4" stroke-width="0.8"/>
<line x1="569.06" x2="569.06" y1="173.4" y2="179.34" stroke="#C4C4C4" stroke-width="0.8"/>
<line x1="569.66" x2="569.66" y1="173.4" y2="177.57" stroke="#C4C4C4" stroke-width="0.8"/>
<line x1="570.52" x2="570.52" y1="173.4" y2="177.28" stroke="#C4C4C4" stroke-width="0.8"/>
<line x1="570.98" x2="570.98" y1="173.4" y2="177.34" stroke="#C4C4C4" stroke-width="0.8"/>
<line x1="571.74" x2="571.74" y1="173.4" y2="177.48" stroke="#C4C4C4" stroke-width="0.8"/>
<line x1="572.47" x2="572.47" y1="173.4" y2="176.92" stroke="#C4C4C4" stroke-width="0.8"/>
<line x1="572.98" x2="572.98" y1="173.4" y2="177.64" stroke="#C4C4C4" stroke-width="0.8"/>
<line x1="573.52" x2="573.52" y1="173.4" y2="177.58" stroke="#C4C4C4" stroke-width="0.8"/>
<line x1="574.13" x2="574.13" y1="173.4" y2="177.25" stroke="#C4C4C4" stroke-width="0.8"/>
<line x1="574.66" x2="574.66" y1="173.4" y2="176.78" stroke="#C4C4C4" stroke-width="0.8"/>
<line x1="575.39" x2="575.39" y1="173.4" y2="177.25" stroke="#C4C4C4" stroke-width="0.8"/>
<line x1="576.12" x2="576.12" y1="173.4" y2="177.70" stroke="#C4C4C4" stroke-width="0.8"/>
<line x1="576.90" x2="576.90" y1="173.4" y2="177.48" stroke="#C4C4C4" stroke-width="0.8"/>
<line x1="577.49" x2="577.49" y1="173.4" y2="176.57" stroke="#C4C4C4" stroke-width="0.8"/>
<line x1="578.04" x2="578.04" y1="173.4" y2="177.58" stroke="#C4C4C4" stroke-width="0.8"/>
<line x1="578.55" x2="578.55" y1="173.4" y2="176.31" stroke="#C4C4C4" stroke-width="0.8"/>
<line x1="579.12" x2="579.12" y1="173.4" y2="176.02" stroke="#C4C4C4" stroke-width="0.8"/>
<line x1="579.76" x2="579.76" y1="173.4" y2="177.32" stroke="#C4C4C4" stroke-width="0.8"/>
<line x1="580.52" x2="580.52" y1="173.4" y2="175.75" stroke="#C4C4C4" stroke-width="0.8"/>
<line x1="581.27" x2="581.27" y1="173.4" y2="176.91" stroke="#C4C4C4" stroke-width="0.8"/>
<line x1="581.78" x2="581.78" y1="173.4" y2="176.29" stroke="#C4C4C4" stroke-width="0.8"/>
<line x1="582.45" x2="582.45" y1="173.4" y2="176.72" stroke="#C4C4C4" stroke-width="0.8"/>
<line x1="582.95" x2="582.95" y1="173.4" y2="175.54" stroke="#C4C4C4" stroke-width="0.8"/>
<line x1="583.63" x2="583.63" y1="173.4" y2="176.61" stroke="#C4C4C4" stroke-width="0.8"/>
<line x1="449.0" x2="449.0" y1="4.5" y2="206.3" stroke="#A6A6A6" stroke-width="1.2"/>
<line x1="683.5" x2="683.5" y1="4.5" y2="206.3" stroke="#9A9A9A" stroke-width="1.2"/>
<line x1="449.0" x2="683.5" y1="4.5" y2="4.5" stroke="#555" stroke-width="1"/>
<line x1="449.0" x2="683.5" y1="206.3" y2="206.3" stroke="#444" stroke-width="1"/>
<line x1="445.9" x2="449.0" y1="40.3" y2="40.3" stroke="#333" stroke-width="0.8"/>
<line x1="445.9" x2="449.0" y1="72.7" y2="72.7" stroke="#333" stroke-width="0.8"/>
<line x1="445.9" x2="449.0" y1="105.3" y2="105.3" stroke="#333" stroke-width="0.8"/>
<line x1="445.9" x2="449.0" y1="138.1" y2="138.1" stroke="#333" stroke-width="0.8"/>
<line x1="445.9" x2="449.0" y1="170.7" y2="170.7" stroke="#333" stroke-width="0.8"/>
<line x1="451.70" x2="451.70" y1="206.3" y2="209.0" stroke="#333" stroke-width="0.8"/>
<text x="451.10" y="215.40" font-size="6.3" fill="#222" text-anchor="middle">−0.5</text>
<line x1="538.40" x2="538.40" y1="206.3" y2="209.0" stroke="#333" stroke-width="0.8"/>
<text x="538.40" y="215.40" font-size="6.3" fill="#222" text-anchor="middle">0.0</text>
<line x1="625.10" x2="625.10" y1="206.3" y2="209.0" stroke="#333" stroke-width="0.8"/>
<text x="625.10" y="215.40" font-size="6.3" fill="#222" text-anchor="middle">0.5</text>
<text x="439.90" y="38.40" font-size="7.6" fill="#222" text-anchor="end" textLength="53.00" lengthAdjust="spacingAndGlyphs" stroke="#222" stroke-width="0.12">Ewing sarcoma</text>
<text x="442.10" y="46.80" font-size="7.6" fill="#222" text-anchor="end" textLength="70.50" lengthAdjust="spacingAndGlyphs" stroke="#222" stroke-width="0.12">(n=25, FDR=1.4e-12)</text>
<text x="436.40" y="72.10" font-size="7.6" fill="#222" text-anchor="end" textLength="17.70" lengthAdjust="spacingAndGlyphs" stroke="#222" stroke-width="0.12">Bone</text>
<text x="442.10" y="80.50" font-size="7.6" fill="#222" text-anchor="end" textLength="70.50" lengthAdjust="spacingAndGlyphs" stroke="#222" stroke-width="0.12">(n=40, FDR=9.3e-08)</text>
<text x="443.70" y="104.20" font-size="7.6" fill="#222" text-anchor="end" textLength="94.30" lengthAdjust="spacingAndGlyphs" stroke="#222" stroke-width="0.12">Peripheral Nervous System</text>
<text x="440.80" y="111.50" font-size="7.6" fill="#222" text-anchor="end" textLength="63.30" lengthAdjust="spacingAndGlyphs" stroke="#222" stroke-width="0.12">(n=42, FDR=0.021)</text>
<text x="439.80" y="137.20" font-size="7.6" fill="#222" text-anchor="end" textLength="54.00" lengthAdjust="spacingAndGlyphs" stroke="#222" stroke-width="0.12">Neuroblastoma</text>
<text x="440.80" y="144.80" font-size="7.6" fill="#222" text-anchor="end" textLength="63.30" lengthAdjust="spacingAndGlyphs" stroke="#222" stroke-width="0.12">(n=37, FDR=0.044)</text>
<text x="443.70" y="173.90" font-size="7.6" fill="#222" text-anchor="end" textLength="93.00" lengthAdjust="spacingAndGlyphs" stroke="#222" stroke-width="0.12">All the lineages in DepMap</text>
<text transform="translate(342.8 158.0) rotate(-90)" font-size="12.6" fill="#000" stroke="#000" stroke-width="0.25" textLength="109.3" lengthAdjust="spacingAndGlyphs">Lineages/Diseases</text>
<text x="464.20" y="230.00" font-size="13.5" fill="#000" textLength="189.40" lengthAdjust="spacingAndGlyphs" stroke="#000" stroke-width="0.25">Gene effect of SLFN11 (Chronos)</text>
<text x="329.00" y="9.70" font-size="13.5" fill="#000" stroke="#000" stroke-width="0.3">(b)</text>
<line x1="39.4" x2="39.4" y1="289.3" y2="560.3" stroke="#444" stroke-width="0.9"/>
<line x1="39.4" x2="310.3" y1="560.3" y2="560.3" stroke="#444" stroke-width="0.9"/>
<line x1="37.6" x2="39.4" y1="289.60" y2="289.60" stroke="#444" stroke-width="0.8"/>
<text x="36.2" y="292.60" font-size="8.3" font-weight="bold" fill="#111" text-anchor="end">1.0</text>
<line x1="37.6" x2="39.4" y1="424.95" y2="424.95" stroke="#444" stroke-width="0.8"/>
<text x="36.2" y="427.95" font-size="8.3" font-weight="bold" fill="#111" text-anchor="end">0.5</text>
<line x1="37.6" x2="39.4" y1="560.30" y2="560.30" stroke="#444" stroke-width="0.8"/>
<text x="36.2" y="563.30" font-size="8.3" font-weight="bold" fill="#111" text-anchor="end">0.0</text>
<line x1="39.40" x2="39.40" y1="560.3" y2="562.0999999999999" stroke="#444" stroke-width="0.8"/>
<text x="39.40" y="569.20" font-size="8.3" font-weight="bold" fill="#111" text-anchor="middle">0</text>
<line x1="66.38" x2="66.38" y1="560.3" y2="562.0999999999999" stroke="#444" stroke-width="0.8"/>
<text x="66.38" y="569.20" font-size="8.3" font-weight="bold" fill="#111" text-anchor="middle">20</text>
<line x1="93.36" x2="93.36" y1="560.3" y2="562.0999999999999" stroke="#444" stroke-width="0.8"/>
<text x="93.36" y="569.20" font-size="8.3" font-weight="bold" fill="#111" text-anchor="middle">40</text>
<line x1="120.34" x2="120.34" y1="560.3" y2="562.0999999999999" stroke="#444" stroke-width="0.8"/>
<text x="120.34" y="569.20" font-size="8.3" font-weight="bold" fill="#111" text-anchor="middle">60</text>
<line x1="147.32" x2="147.32" y1="560.3" y2="562.0999999999999" stroke="#444" stroke-width="0.8"/>
<text x="147.32" y="569.20" font-size="8.3" font-weight="bold" fill="#111" text-anchor="middle">80</text>
<line x1="174.30" x2="174.30" y1="560.3" y2="562.0999999999999" stroke="#444" stroke-width="0.8"/>
<text x="174.30" y="569.20" font-size="8.3" font-weight="bold" fill="#111" text-anchor="middle">100</text>
<line x1="201.28" x2="201.28" y1="560.3" y2="562.0999999999999" stroke="#444" stroke-width="0.8"/>
<text x="201.28" y="569.20" font-size="8.3" font-weight="bold" fill="#111" text-anchor="middle">120</text>
<line x1="228.26" x2="228.26" y1="560.3" y2="562.0999999999999" stroke="#444" stroke-width="0.8"/>
<text x="228.26" y="569.20" font-size="8.3" font-weight="bold" fill="#111" text-anchor="middle">140</text>
<line x1="255.24" x2="255.24" y1="560.3" y2="562.0999999999999" stroke="#444" stroke-width="0.8"/>
<text x="255.24" y="569.20" font-size="8.3" font-weight="bold" fill="#111" text-anchor="middle">160</text>
<line x1="282.22" x2="282.22" y1="560.3" y2="562.0999999999999" stroke="#444" stroke-width="0.8"/>
<text x="282.22" y="569.20" font-size="8.3" font-weight="bold" fill="#111" text-anchor="middle">180</text>
<line x1="309.20" x2="309.20" y1="560.3" y2="562.0999999999999" stroke="#444" stroke-width="0.8"/>
<text x="309.20" y="569.20" font-size="8.3" font-weight="bold" fill="#111" text-anchor="middle">200</text>
<path d="M42.2,289.7 H48.5 V302.1 H53.8 V314.5 H54.2 V326.6 H57.3 V363.6 H60.8 V375.8 H63.5 V388.1 H70.3 V400.6 H71.3 V412.8 H73.6 V425 H75.4 V437.2 H76.5 V449.6 H82.3 V461.9 H98.6 V474.1 H105.2 V486.2 H106.1 V498.8 H201.6" fill="none" stroke="#3A3AE0" stroke-width="1.1"/>
<line x1="118.7" x2="118.7" y1="495.8" y2="501.8" stroke="#3A3AE0" stroke-width="1"/>
<line x1="161.3" x2="161.3" y1="495.8" y2="501.8" stroke="#3A3AE0" stroke-width="1"/>
<line x1="191.6" x2="191.6" y1="495.8" y2="501.8" stroke="#3A3AE0" stroke-width="1"/>
<line x1="201.6" x2="201.6" y1="495.8" y2="501.8" stroke="#3A3AE0" stroke-width="1"/>
<path d="M42.2,289.7 H55.5 V302.1 H60.7 V314.5 H64.7 V327.3 H77.3 V340.4 H90.6 V353.1 H125.5 V367.7 H129.1 V383.6 H152.6 V403.3 H176.6 V422.7 H302.6" fill="none" stroke="#C23A3A" stroke-width="1.15"/>
<line x1="64.2" x2="64.2" y1="311.5" y2="317.5" stroke="#C23A3A" stroke-width="1"/>
<line x1="101.0" x2="101.0" y1="350.1" y2="356.1" stroke="#C23A3A" stroke-width="1"/>
<line x1="108.5" x2="108.5" y1="350.1" y2="356.1" stroke="#C23A3A" stroke-width="1"/>
<line x1="126.9" x2="126.9" y1="364.7" y2="370.7" stroke="#C23A3A" stroke-width="1"/>
<line x1="135.6" x2="135.6" y1="380.6" y2="386.6" stroke="#C23A3A" stroke-width="1"/>
<line x1="136.6" x2="136.6" y1="380.6" y2="386.6" stroke="#C23A3A" stroke-width="1"/>
<line x1="201.3" x2="201.3" y1="419.7" y2="425.7" stroke="#C23A3A" stroke-width="1"/>
<line x1="206.9" x2="206.9" y1="419.7" y2="425.7" stroke="#C23A3A" stroke-width="1"/>
<line x1="211.6" x2="211.6" y1="419.7" y2="425.7" stroke="#C23A3A" stroke-width="1"/>
<line x1="213.2" x2="213.2" y1="419.7" y2="425.7" stroke="#C23A3A" stroke-width="1"/>
<line x1="215.2" x2="215.2" y1="419.7" y2="425.7" stroke="#C23A3A" stroke-width="1"/>
<line x1="217.4" x2="217.4" y1="419.7" y2="425.7" stroke="#C23A3A" stroke-width="1"/>
<line x1="302.6" x2="302.6" y1="419.7" y2="425.7" stroke="#C23A3A" stroke-width="1"/>
<text x="146.1" y="284.10" font-size="12.2" fill="#111" stroke="#111" stroke-width="0.25" textLength="42.2" lengthAdjust="spacingAndGlyphs">SLFN11</text>
<rect x="195.8" y="306.0" width="23" height="10.6" fill="#C41E12"/>
<rect x="195.8" y="326.0" width="23" height="10.6" fill="#3458C4"/>
<text x="224.3" y="315.10" font-size="11.9" fill="#111" stroke="#111" stroke-width="0.25" textLength="60.8" lengthAdjust="spacingAndGlyphs">High (n=44)</text>
<text x="224.3" y="335.10" font-size="11.9" fill="#111" stroke="#111" stroke-width="0.25" textLength="57.2" lengthAdjust="spacingAndGlyphs">Low (n=44)</text>
<text x="194.4" y="352.5" font-size="12" font-style="italic" fill="#111" stroke="#111" stroke-width="0.2">p</text>
<text x="203.8" y="352.5" font-size="11.2" fill="#111" stroke="#111" stroke-width="0.2">=</text>
<text x="216.8" y="352.5" font-size="11.2" fill="#111" stroke="#111" stroke-width="0.2" textLength="38.1" lengthAdjust="spacingAndGlyphs">7.04e-5</text>
<text x="97.5" y="585.5" font-size="12.5" fill="#111" stroke="#111" stroke-width="0.25" textLength="118.5" lengthAdjust="spacingAndGlyphs">Follow up in months</text>
<text transform="translate(18.2 497.4) rotate(-90)" font-size="13.1" fill="#111" stroke="#111" stroke-width="0.25" textLength="156.8" lengthAdjust="spacingAndGlyphs">Overall survival probability</text>
<line x1="381.5" x2="381.5" y1="290.0" y2="560.1" stroke="#444" stroke-width="0.9"/>
<line x1="381.5" x2="652.3" y1="560.1" y2="560.1" stroke="#444" stroke-width="0.9"/>
<line x1="379.7" x2="381.5" y1="290.30" y2="290.30" stroke="#444" stroke-width="0.8"/>
<text x="378.2" y="293.30" font-size="8.3" font-weight="bold" fill="#111" text-anchor="end">1.0</text>
<line x1="379.7" x2="381.5" y1="425.20" y2="425.20" stroke="#444" stroke-width="0.8"/>
<text x="378.2" y="428.20" font-size="8.3" font-weight="bold" fill="#111" text-anchor="end">0.5</text>
<line x1="379.7" x2="381.5" y1="560.10" y2="560.10" stroke="#444" stroke-width="0.8"/>
<text x="378.2" y="563.10" font-size="8.3" font-weight="bold" fill="#111" text-anchor="end">0.0</text>
<line x1="381.50" x2="381.50" y1="560.1" y2="561.9" stroke="#444" stroke-width="0.8"/>
<text x="381.50" y="569.00" font-size="8.3" font-weight="bold" fill="#111" text-anchor="middle">0</text>
<line x1="408.48" x2="408.48" y1="560.1" y2="561.9" stroke="#444" stroke-width="0.8"/>
<text x="408.48" y="569.00" font-size="8.3" font-weight="bold" fill="#111" text-anchor="middle">20</text>
<line x1="435.46" x2="435.46" y1="560.1" y2="561.9" stroke="#444" stroke-width="0.8"/>
<text x="435.46" y="569.00" font-size="8.3" font-weight="bold" fill="#111" text-anchor="middle">40</text>
<line x1="462.44" x2="462.44" y1="560.1" y2="561.9" stroke="#444" stroke-width="0.8"/>
<text x="462.44" y="569.00" font-size="8.3" font-weight="bold" fill="#111" text-anchor="middle">60</text>
<line x1="489.42" x2="489.42" y1="560.1" y2="561.9" stroke="#444" stroke-width="0.8"/>
<text x="489.42" y="569.00" font-size="8.3" font-weight="bold" fill="#111" text-anchor="middle">80</text>
<line x1="516.40" x2="516.40" y1="560.1" y2="561.9" stroke="#444" stroke-width="0.8"/>
<text x="516.40" y="569.00" font-size="8.3" font-weight="bold" fill="#111" text-anchor="middle">100</text>
<line x1="543.38" x2="543.38" y1="560.1" y2="561.9" stroke="#444" stroke-width="0.8"/>
<text x="543.38" y="569.00" font-size="8.3" font-weight="bold" fill="#111" text-anchor="middle">120</text>
<line x1="570.36" x2="570.36" y1="560.1" y2="561.9" stroke="#444" stroke-width="0.8"/>
<text x="570.36" y="569.00" font-size="8.3" font-weight="bold" fill="#111" text-anchor="middle">140</text>
<line x1="597.34" x2="597.34" y1="560.1" y2="561.9" stroke="#444" stroke-width="0.8"/>
<text x="597.34" y="569.00" font-size="8.3" font-weight="bold" fill="#111" text-anchor="middle">160</text>
<line x1="624.32" x2="624.32" y1="560.1" y2="561.9" stroke="#444" stroke-width="0.8"/>
<text x="624.32" y="569.00" font-size="8.3" font-weight="bold" fill="#111" text-anchor="middle">180</text>
<line x1="651.30" x2="651.30" y1="560.1" y2="561.9" stroke="#444" stroke-width="0.8"/>
<text x="651.30" y="569.00" font-size="8.3" font-weight="bold" fill="#111" text-anchor="middle">200</text>
<path d="M383.3,290.6 H385.3 V302.8 H389.5 V327.3 H392.4 V339.6 H396.3 V364.6 H397.8 V376.9 H398.3 V389.1 H398.6 V401.3 H402.0 V413.7 H402.5 V425.6 H403.3 V438.2 H405.4 V450.2 H407.1 V462.3 H409.3 V474.6 H420.7 V487.3 H425.5 V501.6 H446.6 V516.2 H541.9" fill="none" stroke="#3A3AE0" stroke-width="1.1"/>
<line x1="425.5" x2="425.5" y1="484.3" y2="490.3" stroke="#3A3AE0" stroke-width="1"/>
<line x1="501.6" x2="501.6" y1="513.2" y2="519.2" stroke="#3A3AE0" stroke-width="1"/>
<line x1="532.1" x2="532.1" y1="513.2" y2="519.2" stroke="#3A3AE0" stroke-width="1"/>
<line x1="541.9" x2="541.9" y1="513.2" y2="519.2" stroke="#3A3AE0" stroke-width="1"/>
<path d="M383.3,290.6 H396.1 V302.8 H401.2 V315.3 H404.8 V328.3 H407.6 V341.6 H409.5 V355.5 H412.6 V369.2 H416.2 V384 H417.8 V398.4 H429.5 V414.9 H461.4 V433.2 H477.6 V458.4 H642.5" fill="none" stroke="#C23A3A" stroke-width="1.15"/>
<line x1="404.8" x2="404.8" y1="312.3" y2="318.3" stroke="#C23A3A" stroke-width="1"/>
<line x1="407.3" x2="407.3" y1="325.3" y2="331.3" stroke="#C23A3A" stroke-width="1"/>
<line x1="415.7" x2="415.7" y1="366.2" y2="372.2" stroke="#C23A3A" stroke-width="1"/>
<line x1="421.5" x2="421.5" y1="395.4" y2="401.4" stroke="#C23A3A" stroke-width="1"/>
<line x1="441.5" x2="441.5" y1="411.9" y2="417.9" stroke="#C23A3A" stroke-width="1"/>
<line x1="467.3" x2="467.3" y1="430.2" y2="436.2" stroke="#C23A3A" stroke-width="1"/>
<line x1="476.7" x2="476.7" y1="430.2" y2="436.2" stroke="#C23A3A" stroke-width="1"/>
<line x1="547.4" x2="547.4" y1="455.4" y2="461.4" stroke="#C23A3A" stroke-width="1"/>
<line x1="551.7" x2="551.7" y1="455.4" y2="461.4" stroke="#C23A3A" stroke-width="1"/>
<line x1="554.4" x2="554.4" y1="455.4" y2="461.4" stroke="#C23A3A" stroke-width="1"/>
<line x1="642.5" x2="642.5" y1="455.4" y2="461.4" stroke="#C23A3A" stroke-width="1"/>
<text x="475.5" y="284.80" font-size="12.2" fill="#111" stroke="#111" stroke-width="0.25" textLength="42.9" lengthAdjust="spacingAndGlyphs">SLFN11</text>
<rect x="517.1" y="305.2" width="23" height="10.6" fill="#C41E12"/>
<rect x="517.1" y="325.3" width="23" height="10.6" fill="#3458C4"/>
<text x="546.2" y="314.30" font-size="11.9" fill="#111" stroke="#111" stroke-width="0.25" textLength="60.8" lengthAdjust="spacingAndGlyphs">High (n=44)</text>
<text x="546.2" y="334.40" font-size="11.9" fill="#111" stroke="#111" stroke-width="0.25" textLength="57.2" lengthAdjust="spacingAndGlyphs">Low (n=44)</text>
<text x="519.0" y="352.5" font-size="12" font-style="italic" fill="#111" stroke="#111" stroke-width="0.2">p</text>
<text x="528.3" y="352.5" font-size="11.2" fill="#111" stroke="#111" stroke-width="0.2">=</text>
<text x="539.0" y="352.5" font-size="11.2" fill="#111" stroke="#111" stroke-width="0.2" textLength="37.8" lengthAdjust="spacingAndGlyphs">1.76e-4</text>
<text x="446.4" y="585.5" font-size="12.5" fill="#111" stroke="#111" stroke-width="0.25" textLength="118.5" lengthAdjust="spacingAndGlyphs">Follow up in months</text>
<text transform="translate(357.2 503.0) rotate(-90)" font-size="13.1" fill="#111" stroke="#111" stroke-width="0.25" textLength="175.5" lengthAdjust="spacingAndGlyphs">Event-free survival probability</text>
<text x="0.2" y="284.6" font-size="13.5" fill="#000" stroke="#000" stroke-width="0.3">(c)</text>
<text x="328.9" y="283.9" font-size="13.5" fill="#000" stroke="#000" stroke-width="0.3">(d)</text>
</svg>
</body></html>
